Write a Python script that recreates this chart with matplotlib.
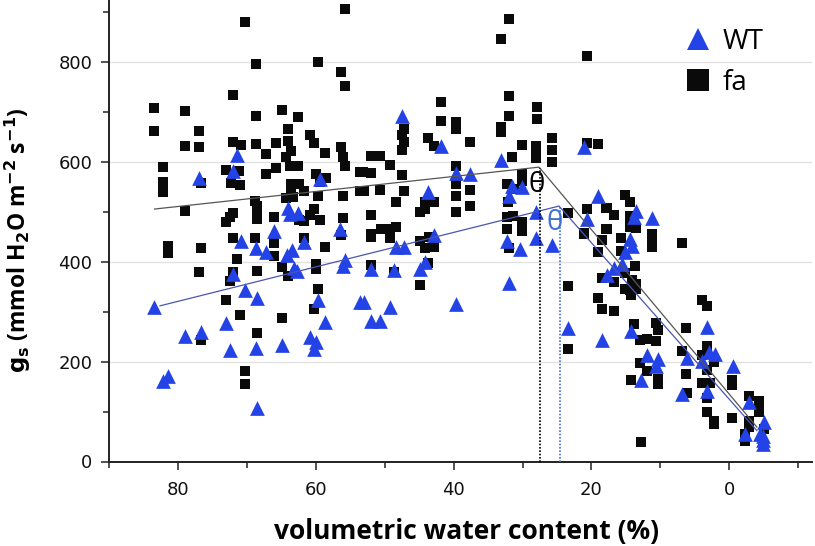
"""
Stomatal conductance against volumetric water content for WT and fa
"""
import matplotlib
matplotlib.use("Agg")
import matplotlib.pyplot as plt
from matplotlib.lines import Line2D
from matplotlib.ticker import MultipleLocator

fa_x = [55.8, 70.2, 68.7, 59.7, 56.4, 55.8, 72, 83.4, 79, 64.9, 68.7, 62.6, 83.4, 76.9, 64, 64, 60.9, 60.3,
        79, 76.9, 72, 70.9, 68.7, 65.8, 56.4, 67.2, 63.6, 58.7, 56, 64.3, 55.8, 82.1, 73, 71.2, 65.8, 67.2,
        63.7, 62.6, 59.9, 58.5, 53.6, 82.1, 76.6, 72.3, 71, 59.4, 63.6, 62.5, 61.7, 63.6, 82.1, 59.7, 56,
        53.6, 64.3, 63.3, 68.8, 79, 68.5, 68.5, 68.5, 60.3, 60.9, 72, 72.4, 73, 66.1, 62.5, 61.7, 59.4, 56,
        56.4, 72, 68.8, 66.1, 61.7, 66, 81.5, 81.5, 76.6, 58.7, 71.5, 66, 59.9, 59.9, 64.9, 64, 76.9, 72,
        68.5, 72.4, 59.7, 73, 60.3, 71, 64.9, 68.5, 76.6, 70.2, 70.2,
        32, 33.1, 20.6, 32, 27.9, 27.9, 41.9, 41.9, 39.7, 39.7, 32, 33.1, 33.1, 47.2, 47.5, 47.2, 47.5, 43.7,
        42.9, 37.6, 25.7, 28, 28, 28, 25.7, 25.7, 30.1, 31.5, 20.6, 19.1, 52, 50.7, 49.2, 53.1, 52, 47.5,
        39.7, 30.1, 30.1, 32.2, 31.3, 39.7, 53, 50.7, 47.2, 37.6, 39.7, 48.3, 44.1, 42.8, 44.1, 44.9, 32.1,
        37.6, 39.7, 52, 32.3, 31.4, 30.1, 30.1, 32.3, 52, 52, 50.5, 49.2, 48.3, 49.2, 44.9, 43.6, 44.1, 42.8,
        32, 52, 23.4, 20.6, 17.9, 21.1, 18.5, 17.9, 19.1, 44.9, 48.6, 43.7,
        15.1, 14.4, 17.8, 16.8, 14.4, 14.4, 14.4, 13.5, 17.8, 21.1, 18.5, 15.7, 11.2, 11.2, 11.2, 6.9, 19,
        15.7, 13.7, 15.1, 18.5, 16.8, 14.1, 13.6, 15.2, 14.4, 13.6, 14.2, 23.4, 19, 18.5, 16.8, 4, 3.3, 13.8,
        10.6, 10.3, 6.3, 12.9, 11.9, 10.6, 23.4, 3.3, 6.9, 4, 2.2, 12.9, 12, 3.3, 6.3, 14.2, 10.3, 10.3, 4,
        2.8, -0.4, -0.4, 6.2, 3.3, -2.8, -4.3, -4.3, -4.3, 3.3, 2.2, 2.2, -0.4, -2.8, -2.8, -2.3, -2.3, -5,
        12.8]
fa_y = [907, 880, 796, 800, 781, 752, 735, 708, 702, 705, 693, 690, 663, 662, 667, 643, 655, 638,
        632, 631, 640, 635, 637, 639, 630, 617, 623, 619, 610, 610, 592, 590, 585, 582, 588, 577,
        592, 592, 577, 568, 580, 561, 558, 558, 554, 560, 556, 556, 543, 543, 540, 532, 532,
        543, 528, 530, 523, 502, 513, 502, 486, 506, 494, 498, 490, 481, 490, 485, 483, 485, 488,
        453, 448, 448, 440, 448, 438, 431, 417, 428, 430, 406, 411, 395, 386, 389, 371, 380, 379,
        382, 361, 346, 324, 306, 293, 288, 258, 243, 182, 156,
        886, 846, 812, 733, 711, 687, 720, 682, 680, 667, 693, 670, 660, 667, 655, 640, 625, 649,
        633, 641, 649, 632, 620, 609, 625, 600, 635, 610, 638, 637, 613, 612, 595, 580, 579, 575,
        593, 577, 563, 557, 546, 556, 542, 544, 542, 544, 532, 520, 520, 520, 506, 500, 520,
        513, 501, 495, 491, 493, 480, 463, 466, 456, 449, 466, 466, 470, 448, 441, 449, 428, 430,
        428, 394, 498, 506, 508, 456, 444, 466, 419, 353, 379, 398,
        535, 520, 508, 494, 493, 486, 470, 468, 466, 458, 444, 448, 455, 443, 430, 437, 419,
        421, 392, 378, 368, 359, 363, 356, 346, 343, 346, 333, 351, 327, 306, 301, 323, 311, 275,
        277, 263, 267, 244, 246, 242, 225, 232, 222, 214, 200, 198, 182, 184, 176, 164, 166, 156, 158,
        158, 164, 153, 137, 127, 132, 122, 110, 100, 99, 82, 75, 87, 82, 70, 55, 42, 65,
        39]

wt_x = [71.5, 76.9, 72, 59.4, 64, 63.7, 62.6, 66, 56.5, 70.9, 68.7, 67.2, 64.2, 63.5, 61.7, 55.8, 56,
        63.1, 62.7, 72, 70.2, 68.5, 83.4, 59.7, 53.6, 58.6, 79, 76.6, 73, 60.9, 59.9, 60.3, 72.4, 68.7,
        64.9, 81.5, 82.1, 68.5,
        47.5, 41.9, 33.1, 21.1, 39.7, 37.6, 31.5, 30.1, 32, 43.7, 19, 28, 20.6, 28, 25.7, 42.9, 48.3,
        47.2, 32.3, 30.3, 44.2, 52, 48.7, 44.9, 39.7, 32, 53, 52, 50.7, 49.2,
        13.5, 13.8, 11.2, 14.4, 14.1, 15.1, 15.5, 16.8, 17.8, 23.4, 18.5, 14.2, 3.3, 12, 10.3, 10.6, 6.2,
        2.9, 2.1, 4, -0.5, 12.8, 3.3, 6.9, -2.8, -5, -2.3, -4.5, -4.9, -4.9, -4.9]
wt_y = [615, 569, 583, 567, 508, 497, 498, 463, 466, 441, 428, 420, 413, 424, 440, 403, 391,
        388, 381, 376, 343, 328, 309, 323, 319, 280, 252, 260, 277, 249, 240, 226, 224, 228,
        234, 171, 162, 107,
        693, 633, 605, 630, 578, 576, 553, 550, 533, 540, 533, 501, 486, 448, 433, 454, 430,
        430, 441, 426, 399, 385, 384, 385, 316, 357, 320, 282, 282, 310,
        502, 490, 488, 445, 431, 419, 396, 387, 373, 268, 244, 262, 270, 214, 206, 192, 208,
        219, 216, 202, 192, 164, 142, 136, 119, 79, 55, 55, 51, 35, 43]

fa_fit_x = [83.4, 27.6, -4]
fa_fit_y = [506, 590, 69]
wt_fit_x = [82.6, 24.7, -4]
wt_fit_y = [312, 512, 62]
fa_theta = 27.4
wt_theta = 24.5

BLUE = "#2443e6"
BLACK = "#0a0a0a"

plt.rcParams["font.family"] = ["Open Sans", "DejaVu Sans"]

fig = plt.figure(figsize=(8.15, 5.46), dpi=100)
ax = fig.add_axes([109 / 815, (546 - 461.5) / 546, (812 - 109) / 815, 461.5 / 546])

ax.set_xlim(90, -12)
ax.set_ylim(0, 925)
ax.yaxis.grid(True, which="major", color="#e2e2e2", linewidth=1)
ax.set_axisbelow(True)

ax.plot(fa_fit_x, fa_fit_y, color="#555555", linewidth=0.9, zorder=4)
ax.plot(wt_fit_x, wt_fit_y, color="#4a55b5", linewidth=0.9, zorder=4)
ax.plot([fa_theta, fa_theta], [0, 588], color="black", linewidth=1.2, linestyle=(0, (1, 1)), zorder=4)
ax.plot([wt_theta, wt_theta], [0, 512], color="#3f6fd8", linewidth=1.2, linestyle=(0, (1, 1)), zorder=4)

ax.scatter(fa_x, fa_y, marker="s", s=54, color=BLACK, linewidths=0, zorder=2)
ax.scatter(wt_x, wt_y, marker="^", s=112, color=BLUE, linewidths=0, zorder=3)

ax.text(27.9, 555, "θ", fontsize=20, color="black", ha="center", va="center", zorder=5)
ax.text(25.3, 479, "θ", fontsize=20, color="#3f6fd8", ha="center", va="center", zorder=5)

ax.spines["top"].set_visible(False)
ax.spines["right"].set_visible(False)
for side in ("left", "bottom"):
    ax.spines[side].set_linewidth(1.4)
    ax.spines[side].set_color("#222222")

ax.xaxis.set_major_locator(MultipleLocator(20))
ax.xaxis.set_minor_locator(MultipleLocator(10))
ax.yaxis.set_major_locator(MultipleLocator(200))
ax.yaxis.set_minor_locator(MultipleLocator(100))
ax.tick_params(axis="both", which="major", length=6, width=1.1, labelsize=13, color="#222222", labelcolor="#111111")
ax.tick_params(axis="both", which="minor", length=4, width=1.1, color="#222222")
ax.tick_params(axis="x", which="major", pad=8)
ax.tick_params(axis="y", which="major", pad=6)
for label in ax.get_xticklabels() + ax.get_yticklabels():
    label.set_family("DejaVu Sans")

fig.text(466 / 815, 1 - 532 / 546, "volumetric water content (%)", fontsize=19, fontweight="bold",
         ha="center", va="center")
fig.text(18 / 815, 1 - 240 / 546, r"$\mathbf{g_s}$ (mmol H$\mathbf{_2}$O m$\mathbf{^{-2}}$ s$\mathbf{^{-1}}$)",
         fontsize=16.5, fontweight="bold", rotation=90, ha="center", va="center", math_fontfamily="dejavusans")

handles = [
    Line2D([], [], linestyle="none", marker="^", markersize=16, color=BLUE, markeredgewidth=0, label="WT"),
    Line2D([], [], linestyle="none", marker="s", markersize=16, color=BLACK, markeredgewidth=0, label="fa"),
]
ax.legend(handles=handles, loc="upper left", bbox_to_anchor=((684 - 109) / 703, 1 - 28 / 461.5),
          frameon=False, fontsize=20, handlelength=1, labelspacing=0.45, handletextpad=0.4,
          borderpad=0, borderaxespad=0)

fig.savefig("out.png", dpi=100)
plt.close(fig)
